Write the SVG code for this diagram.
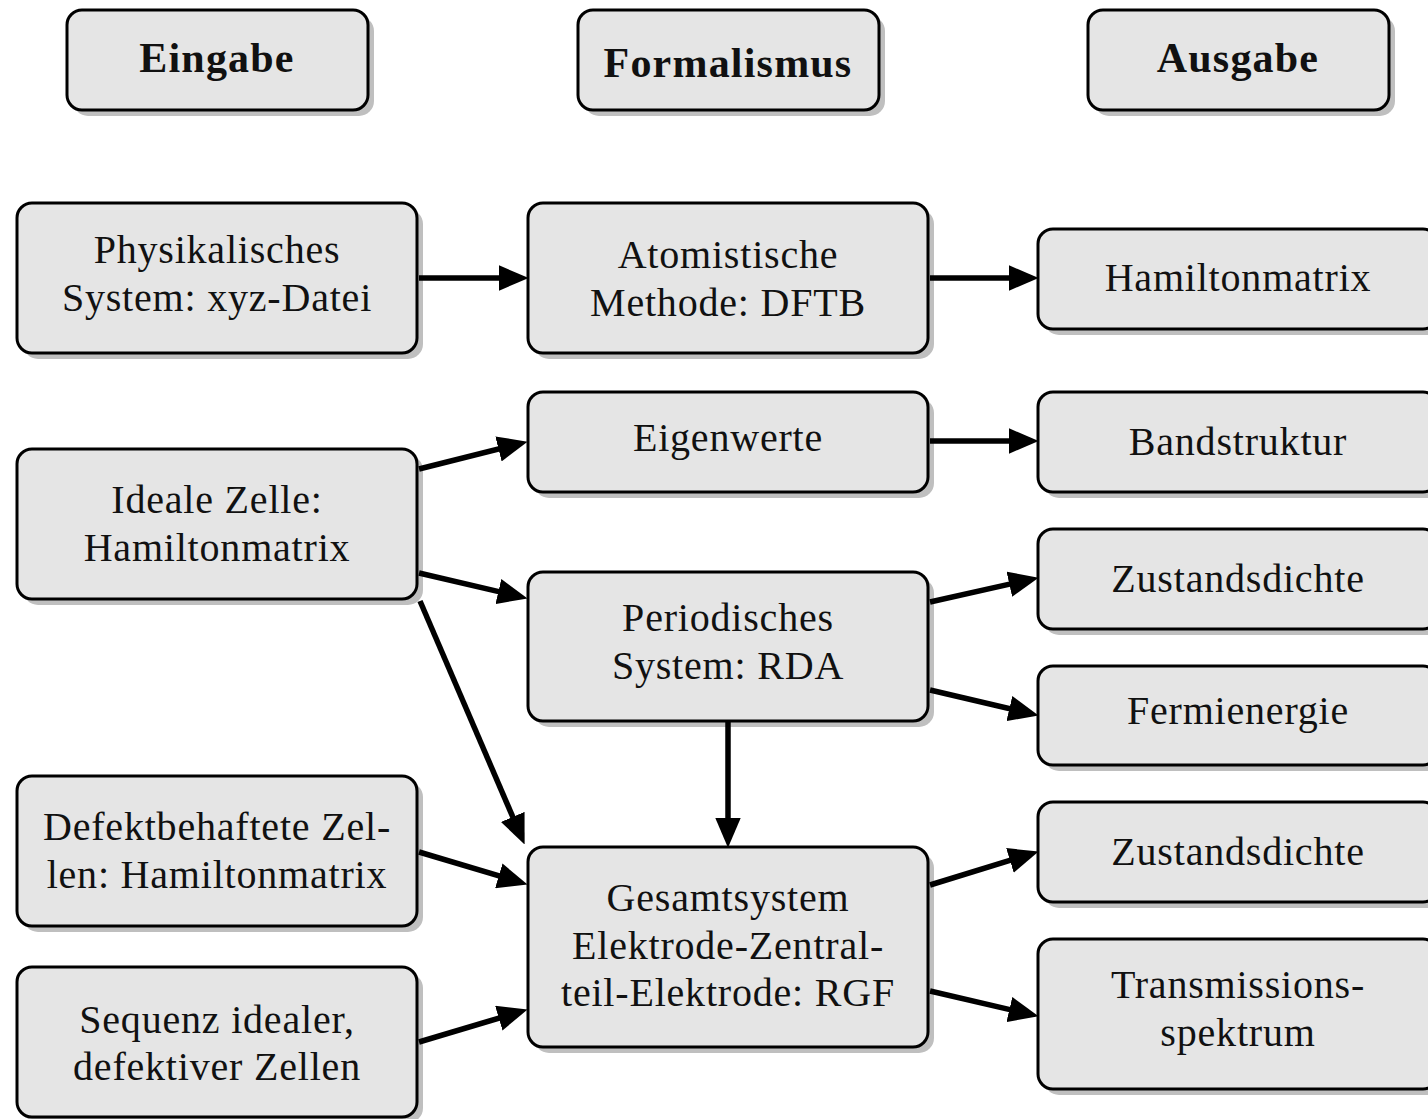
<svg xmlns="http://www.w3.org/2000/svg" width="1428" height="1119" viewBox="0 0 1428 1119">
<defs>
<style>
.sh{fill:#bfbfbf;stroke:none}
.bx{fill:#e5e5e5;stroke:#000;stroke-width:3}
.t{font-family:"Liberation Serif","Times New Roman",serif;font-size:40px;letter-spacing:0.8px;fill:#111;text-anchor:middle}
.h{font-weight:bold;font-size:42px;letter-spacing:1.2px}
.c{stroke:#000;stroke-width:5.5;fill:none;marker-end:url(#ah)}
</style>
<marker id="ah" markerUnits="userSpaceOnUse" markerWidth="30" markerHeight="26" refX="19" refY="12" orient="auto" viewBox="0 0 28 24">
<path d="M0,0 L28,12 L0,24 z" fill="#000"/>
</marker>
</defs>
<rect width="1428" height="1119" fill="#fff"/>

<g id="h-eingabe"><rect class="sh" x="73" y="16" width="301" height="100" rx="15"/><rect class="bx" x="67" y="10" width="301" height="100" rx="15"/><text class="t h" x="217" y="72">Eingabe</text></g>
<g id="h-formalismus"><rect class="sh" x="584" y="16" width="301" height="100" rx="15"/><rect class="bx" x="578" y="10" width="301" height="100" rx="15"/><text class="t h" x="728" y="77">Formalismus</text></g>
<g id="h-ausgabe"><rect class="sh" x="1094" y="16" width="301" height="100" rx="15"/><rect class="bx" x="1088" y="10" width="301" height="100" rx="15"/><text class="t h" x="1238" y="72">Ausgabe</text></g>

<g id="n-phys"><rect class="sh" x="23" y="209" width="400" height="150" rx="15"/><rect class="bx" x="17" y="203" width="400" height="150" rx="15"/><text class="t" x="217" y="263">Physikalisches</text><text class="t" x="217" y="311">System: xyz-Datei</text></g>
<g id="n-ideal"><rect class="sh" x="23" y="455" width="400" height="150" rx="15"/><rect class="bx" x="17" y="449" width="400" height="150" rx="15"/><text class="t" x="217" y="513">Ideale Zelle:</text><text class="t" x="217" y="561">Hamiltonmatrix</text></g>
<g id="n-defekt"><rect class="sh" x="23" y="782" width="400" height="150" rx="15"/><rect class="bx" x="17" y="776" width="400" height="150" rx="15"/><text class="t" x="217" y="840">Defektbehaftete Zel-</text><text class="t" x="217" y="888">len: Hamiltonmatrix</text></g>
<g id="n-sequenz"><rect class="sh" x="23" y="973" width="400" height="150" rx="15"/><rect class="bx" x="17" y="967" width="400" height="150" rx="15"/><text class="t" x="217" y="1033">Sequenz idealer,</text><text class="t" x="217" y="1080">defektiver Zellen</text></g>

<g id="n-atom"><rect class="sh" x="534" y="209" width="400" height="150" rx="15"/><rect class="bx" x="528" y="203" width="400" height="150" rx="15"/><text class="t" x="728" y="268">Atomistische</text><text class="t" x="728" y="316">Methode: DFTB</text></g>
<g id="n-eigen"><rect class="sh" x="534" y="398" width="400" height="100" rx="15"/><rect class="bx" x="528" y="392" width="400" height="100" rx="15"/><text class="t" x="728" y="451">Eigenwerte</text></g>
<g id="n-period"><rect class="sh" x="534" y="578" width="400" height="149" rx="15"/><rect class="bx" x="528" y="572" width="400" height="149" rx="15"/><text class="t" x="728" y="631">Periodisches</text><text class="t" x="728" y="679">System: RDA</text></g>
<g id="n-gesamt"><rect class="sh" x="534" y="853" width="400" height="200" rx="15"/><rect class="bx" x="528" y="847" width="400" height="200" rx="15"/><text class="t" x="728" y="911">Gesamtsystem</text><text class="t" x="728" y="959">Elektrode-Zentral-</text><text class="t" x="728" y="1006">teil-Elektrode: RGF</text></g>

<g id="n-hamil"><rect class="sh" x="1044" y="235" width="400" height="100" rx="15"/><rect class="bx" x="1038" y="229" width="400" height="100" rx="15"/><text class="t" x="1238" y="291">Hamiltonmatrix</text></g>
<g id="n-band"><rect class="sh" x="1044" y="398" width="400" height="100" rx="15"/><rect class="bx" x="1038" y="392" width="400" height="100" rx="15"/><text class="t" x="1238" y="455">Bandstruktur</text></g>
<g id="n-zust1"><rect class="sh" x="1044" y="535" width="400" height="100" rx="15"/><rect class="bx" x="1038" y="529" width="400" height="100" rx="15"/><text class="t" x="1238" y="592">Zustandsdichte</text></g>
<g id="n-fermi"><rect class="sh" x="1044" y="672" width="400" height="99" rx="15"/><rect class="bx" x="1038" y="666" width="400" height="99" rx="15"/><text class="t" x="1238" y="724">Fermienergie</text></g>
<g id="n-zust2"><rect class="sh" x="1044" y="808" width="400" height="100" rx="15"/><rect class="bx" x="1038" y="802" width="400" height="100" rx="15"/><text class="t" x="1238" y="865">Zustandsdichte</text></g>
<g id="n-trans"><rect class="sh" x="1044" y="945" width="400" height="150" rx="15"/><rect class="bx" x="1038" y="939" width="400" height="150" rx="15"/><text class="t" x="1238" y="998">Transmissions-</text><text class="t" x="1238" y="1046">spektrum</text></g>

<g id="connectors">
<line class="c" x1="419" y1="278" x2="519" y2="278"/>
<line class="c" x1="930" y1="278" x2="1029" y2="278"/>
<line class="c" x1="930" y1="441" x2="1029" y2="441"/>
<line class="c" x1="419" y1="469" x2="518.2" y2="444"/>
<line class="c" x1="419" y1="573" x2="518.2" y2="596.2"/>
<line class="c" x1="420" y1="601" x2="520.8" y2="835.6"/>
<line class="c" x1="930" y1="602" x2="1029.2" y2="579.8"/>
<line class="c" x1="930" y1="690" x2="1029.2" y2="713.2"/>
<line class="c" x1="728" y1="722" x2="728" y2="838"/>
<line class="c" x1="419" y1="852" x2="518.3" y2="881.7"/>
<line class="c" x1="419" y1="1042" x2="518.3" y2="1012.3"/>
<line class="c" x1="930" y1="885" x2="1029.4" y2="854.4"/>
<line class="c" x1="930" y1="991" x2="1029.2" y2="1014.1"/>
</g>
</svg>
